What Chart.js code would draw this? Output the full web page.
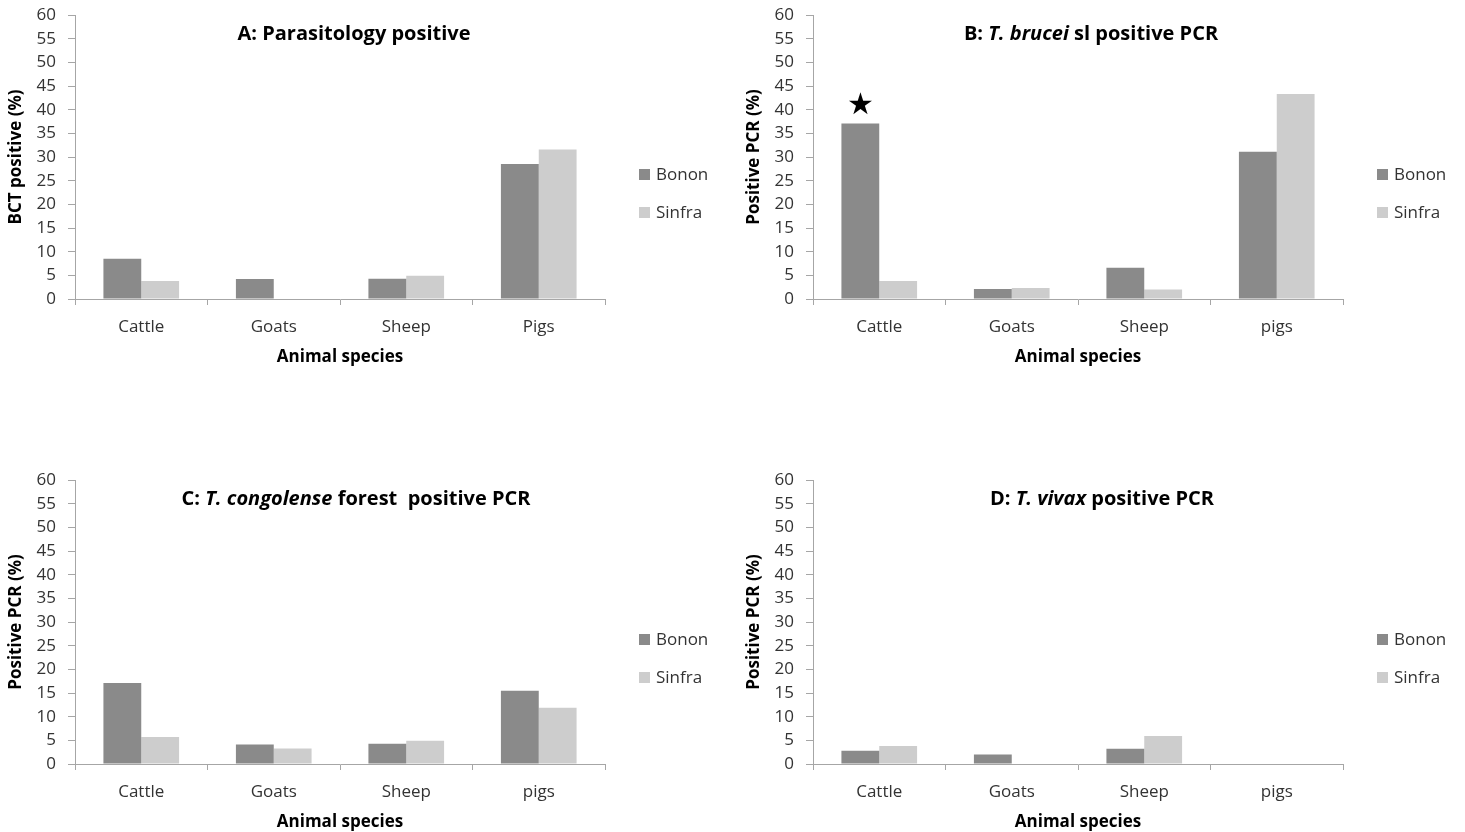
<!DOCTYPE html>
<html lang="en">
<head>
  <meta charset="UTF-8" />
  <title>Trypanosome positivity by animal species</title>
  <style>
    body {
      margin: 0;
      background: #ffffff;
      width: 1465px;
      height: 832px;
      overflow: hidden;
      position: relative;
      font-family: "Open Sans", sans-serif;
    }
    canvas {
      position: absolute;
    }
    #chartA { left: 0px; top: 0px; }
    #chartB { left: 738px; top: 0px; }
    #chartC { left: 0px; top: 465px; }
    #chartD { left: 738px; top: 465px; }
  </style>
</head>
<body>
  <canvas id="chartA" width="732" height="367"></canvas>
  <canvas id="chartB" width="732" height="367"></canvas>
  <canvas id="chartC" width="732" height="367"></canvas>
  <canvas id="chartD" width="732" height="367"></canvas>

  <script src="https://cdn.jsdelivr.net/npm/chart.js"></script>
  <script>
    // categories
    const speciesA = ["Cattle", "Goats", "Sheep", "Pigs"];
    const speciesPCR = ["Cattle", "Goats", "Sheep", "pigs"];
    const sites = ["Bonon", "Sinfra"];
    const yTicks = [0, 5, 10, 15, 20, 25, 30, 35, 40, 45, 50, 55, 60];

    // A: parasitology (BCT) positive, %
    const bononA = [8.5, 4.2, 4.3, 28.5];
    const sinfraA = [3.8, 0, 4.9, 31.6];
    // B: T. brucei sl PCR positive, %
    const bononB = [37.1, 2.1, 6.6, 31.1];
    const sinfraB = [3.8, 2.3, 2.0, 43.3];
    // C: T. congolense forest PCR positive, %
    const bononC = [17.1, 4.1, 4.3, 15.5];
    const sinfraC = [5.7, 3.3, 4.9, 11.9];
    // D: T. vivax PCR positive, %
    const bononD = [2.8, 2.0, 3.2, 0];
    const sinfraD = [3.8, 0, 5.9, 0];

    const DARK = "#8a8a8a";
    const LIGHT = "#cdcdcd";
    const AXIS = "#a6a6a6";
    const TEXT = "#333333";
    const FONT = "'Open Sans', 'Noto Sans', sans-serif";

    // panel titles (mixed bold / bold italic)
    const titleA = [["A: Parasitology positive", false]];
    const titleB = [["B: ", false], ["T. brucei", true], [" sl positive PCR", false]];
    const titleC = [["C: ", false], ["T. congolense", true], [" forest  positive PCR", false]];
    const titleD = [["D: ", false], ["T. vivax", true], [" positive PCR", false]];

    const panelTitle = {
      id: "panelTitle",
      afterDraw(chart, args, opts) {
        if (!opts.parts) return;
        const ctx = chart.ctx;
        ctx.save();
        ctx.fillStyle = "#000";
        ctx.textBaseline = "middle";
        ctx.textAlign = "left";
        let total = 0;
        opts.parts.forEach(([t, it]) => {
          ctx.font = (it ? "italic " : "") + "bold 20px " + FONT;
          total += ctx.measureText(t).width;
        });
        let x = opts.cx - total / 2;
        opts.parts.forEach(([t, it]) => {
          ctx.font = (it ? "italic " : "") + "bold 20px " + FONT;
          ctx.fillText(t, x, opts.cy);
          x += ctx.measureText(t).width;
        });
        ctx.restore();
      }
    };

    const sideLegend = {
      id: "sideLegend",
      afterDraw(chart) {
        const { ctx, chartArea } = chart;
        const mid = (chartArea.top + chartArea.bottom) / 2;
        ctx.save();
        ctx.font = "17px " + FONT;
        ctx.textBaseline = "middle";
        chart.data.datasets.forEach((ds, i) => {
          const y = mid + 18 + i * 38;
          ctx.fillStyle = ds.backgroundColor;
          ctx.fillRect(chartArea.right + 34, y - 6, 11, 11);
          ctx.fillStyle = TEXT;
          ctx.fillText(ds.label, chartArea.right + 51, y);
        });
        ctx.restore();
      }
    };

    // star over the significant bar in panel B
    const starMark = {
      id: "starMark",
      afterDatasetsDraw(chart, args, opts) {
        if (!opts.on) return;
        const bar = chart.getDatasetMeta(opts.dataset).data[opts.index];
        const ctx = chart.ctx;
        ctx.save();
        ctx.fillStyle = "#000";
        ctx.font = "30px 'DejaVu Sans'";
        ctx.textAlign = "center";
        ctx.textBaseline = "middle";
        ctx.fillText("\u2605", bar.x, bar.y - 17);
        ctx.restore();
      }
    };

    function makeChart(id, labels, bonon, sinfra, yTitle, title, titleX, star) {
      return new Chart(document.getElementById(id), {
        type: "bar",
        data: {
          labels: labels,
          datasets: [
            { label: sites[0], data: bonon, backgroundColor: DARK },
            { label: sites[1], data: sinfra, backgroundColor: LIGHT }
          ]
        },
        options: {
          responsive: false,
          animation: false,
          categoryPercentage: 0.571,
          barPercentage: 1.0,
          layout: { padding: { top: 15, right: 127, left: 0, bottom: 0 } },
          scales: {
            x: {
              afterFit(s) { s.height = 68; },
              border: { color: AXIS, width: 1 },
              grid: { drawOnChartArea: false, offset: true, tickLength: 6, color: AXIS },
              ticks: { color: TEXT, font: { family: FONT, size: 17 }, padding: 12 },
              title: {
                display: true, text: "Animal species", color: "#000",
                font: { family: FONT, size: 17, weight: "bold" }, padding: { top: 0, bottom: 0 }
              }
            },
            y: {
              min: 0, max: 60,
              afterFit(s) { s.width = 75; s.paddingTop = 0; s.paddingBottom = 0; },
              afterBuildTicks(s) { s.ticks = yTicks.map(v => ({ value: v })); },
              border: { color: AXIS, width: 1 },
              grid: { drawOnChartArea: false, tickLength: 7, color: AXIS },
              ticks: { color: TEXT, font: { family: FONT, size: 17 }, padding: 12, autoSkip: false },
              title: {
                display: true, text: yTitle, color: "#000",
                font: { family: FONT, size: 17, weight: "bold" }, padding: { top: 6, bottom: 0 }
              }
            }
          },
          plugins: {
            legend: { display: false },
            tooltip: { enabled: false },
            panelTitle: { parts: title, cx: titleX, cy: 34 },
            starMark: { on: !!star, dataset: 0, index: 0 }
          }
        },
        plugins: [panelTitle, sideLegend, starMark]
      });
    }

    makeChart("chartA", speciesA, bononA, sinfraA, "BCT positive (%)", titleA, 354, false);
    makeChart("chartB", speciesPCR, bononB, sinfraB, "Positive PCR (%)", titleB, 353, true);
    makeChart("chartC", speciesPCR, bononC, sinfraC, "Positive PCR (%)", titleC, 356, false);
    makeChart("chartD", speciesPCR, bononD, sinfraD, "Positive PCR (%)", titleD, 364, false);
  </script>
</body>
</html>
